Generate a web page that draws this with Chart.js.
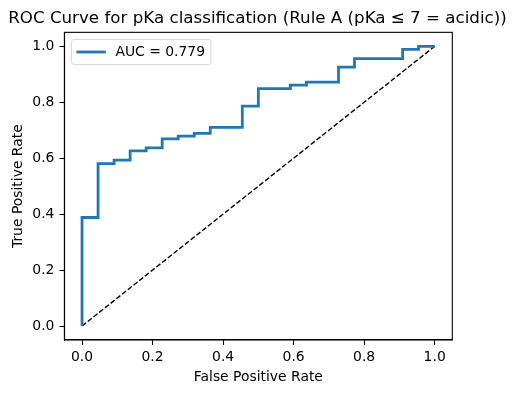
<!DOCTYPE html>
<html>
<head>
<meta charset="utf-8">
<script src="https://cdn.jsdelivr.net/npm/chart.js@4/dist/chart.umd.min.js"></script>
<style>
html,body{margin:0;padding:0;background:#fff;}
canvas{display:block;}
</style>
</head>
<body>
<canvas id="c" width="515" height="393"></canvas>
<script>
// ---- data ----
const fpr = [0, 0, 0.0455, 0.0455, 0.0909, 0.0909, 0.1364, 0.1364, 0.1818, 0.1818, 0.2273, 0.2273, 0.2727, 0.2727, 0.3182, 0.3182, 0.3636, 0.3636, 0.4545, 0.4545, 0.5, 0.5, 0.5909, 0.5909, 0.6364, 0.6364, 0.7273, 0.7273, 0.7727, 0.7727, 0.9091, 0.9091, 0.9545, 0.9545, 1.0];
const tpr = [0, 0.388, 0.388, 0.581, 0.581, 0.593, 0.593, 0.626, 0.626, 0.637, 0.637, 0.669, 0.669, 0.679, 0.679, 0.689, 0.689, 0.710, 0.710, 0.786, 0.786, 0.849, 0.849, 0.861, 0.861, 0.872, 0.872, 0.926, 0.926, 0.956, 0.956, 0.989, 0.989, 1.0, 1.0];
const chanceX = [0, 1];
const chanceY = [0, 1];
const xTicks = [0, 0.2, 0.4, 0.6, 0.8, 1.0];
const yTicks = [0, 0.2, 0.4, 0.6, 0.8, 1.0];
const rocLabel = 'AUC = 0.779';
const titleText = 'ROC Curve for pKa classification (Rule A (pKa \u2264 7 = acidic))';
const xLabel = 'False Positive Rate';
const yLabel = 'True Positive Rate';

const FONT = "'DejaVu Sans', sans-serif";

const framePlugin = {
  id: 'frame',
  afterDatasetsDraw(chart) {
    const a = chart.chartArea, ctx = chart.ctx;
    ctx.save();
    ctx.strokeStyle = '#000';
    ctx.lineWidth = 1.1;
    ctx.strokeRect(a.left, a.top, a.right - a.left, a.bottom - a.top);
    ctx.restore();
  }
};

const legendPlugin = {
  id: 'mplLegend',
  afterDraw(chart) {
    const a = chart.chartArea, ctx = chart.ctx;
    const ds = chart.data.datasets[0];
    ctx.save();
    const x = a.left + 7, y = a.top + 7, w = 139.5, h = 25.3, r = 3;
    ctx.beginPath();
    ctx.moveTo(x + r, y);
    ctx.lineTo(x + w - r, y);
    ctx.arcTo(x + w, y, x + w, y + r, r);
    ctx.lineTo(x + w, y + h - r);
    ctx.arcTo(x + w, y + h, x + w - r, y + h, r);
    ctx.lineTo(x + r, y + h);
    ctx.arcTo(x, y + h, x, y + h - r, r);
    ctx.lineTo(x, y + r);
    ctx.arcTo(x, y, x + r, y, r);
    ctx.closePath();
    ctx.fillStyle = 'rgba(255,255,255,0.8)';
    ctx.fill();
    ctx.strokeStyle = '#d6d6d6';
    ctx.lineWidth = 1;
    ctx.stroke();
    ctx.beginPath();
    ctx.strokeStyle = ds.borderColor;
    ctx.lineWidth = ds.borderWidth;
    ctx.moveTo(x + 5, y + h / 2);
    ctx.lineTo(x + 34.5, y + h / 2);
    ctx.stroke();
    ctx.fillStyle = '#000';
    ctx.font = '13.9px ' + FONT;
    ctx.textBaseline = 'middle';
    ctx.textAlign = 'left';
    ctx.fillText(ds.label, x + 44, y + h / 2 + 0.5);
    ctx.restore();
  }
};

new Chart(document.getElementById('c'), {
  type: 'line',
  data: {
    datasets: [
      {
        label: rocLabel,
        data: fpr.map((v, i) => ({ x: v, y: tpr[i] })),
        borderColor: '#1f77b4',
        borderWidth: 2.78,
        pointRadius: 0,
        tension: 0,
        fill: false
      },
      {
        label: 'chance',
        data: chanceX.map((v, i) => ({ x: v, y: chanceY[i] })),
        borderColor: '#000',
        borderWidth: 1.39,
        borderDash: [5.1, 2.2],
        pointRadius: 0,
        tension: 0,
        fill: false
      }
    ]
  },
  options: {
    responsive: false,
    animation: false,
    devicePixelRatio: 1,
    layout: { padding: 0 },
    plugins: {
      legend: { display: false },
      tooltip: { enabled: false },
      title: {
        display: true,
        text: titleText,
        color: '#000',
        font: { family: FONT, size: 16.7, weight: 'normal', lineHeight: 1.2 },
        padding: { top: 8.8, bottom: 3.5 }
      }
    },
    scales: {
      x: {
        type: 'linear',
        min: -0.05,
        max: 1.05,
        afterBuildTicks(s) { s.ticks = xTicks.map(v => ({ value: v })); },
        afterFit(s) { s.height = 53; },
        ticks: {
          color: '#000',
          font: { family: FONT, size: 13.9 },
          padding: 4,
          maxRotation: 0,
          autoSkip: false,
          callback: v => v.toFixed(1)
        },
        grid: { display: true, drawOnChartArea: false, drawTicks: true, tickLength: 5, color: '#000', tickWidth: 1.1 },
        border: { display: true, color: '#000', width: 1.1 },
        title: {
          display: true,
          text: xLabel,
          color: '#000',
          font: { family: FONT, size: 13.9, lineHeight: 1.2 },
          padding: { top: 0, bottom: 7.6 }
        }
      },
      y: {
        type: 'linear',
        min: -0.05,
        max: 1.05,
        afterBuildTicks(s) { s.ticks = yTicks.map(v => ({ value: v })); },
        afterFit(s) { s.width = 64.4; },
        ticks: {
          color: '#000',
          font: { family: FONT, size: 13.9 },
          padding: 5,
          autoSkip: false,
          callback: v => v.toFixed(1)
        },
        grid: { display: true, drawOnChartArea: false, drawTicks: true, tickLength: 5, color: '#000', tickWidth: 1.1 },
        border: { display: true, color: '#000', width: 1.1 },
        title: {
          display: true,
          text: yLabel,
          color: '#000',
          font: { family: FONT, size: 13.9, lineHeight: 1.2 },
          padding: { top: 10.1, bottom: 0 }
        }
      },
      yRightSpace: {
        type: 'linear',
        position: 'right',
        display: true,
        min: 0,
        max: 1,
        afterFit(s) { s.width = 62.7; },
        ticks: { display: false },
        grid: { display: false, drawTicks: false },
        border: { display: false },
        title: { display: false }
      }
    }
  },
  plugins: [framePlugin, legendPlugin]
});
</script>
</body>
</html>
